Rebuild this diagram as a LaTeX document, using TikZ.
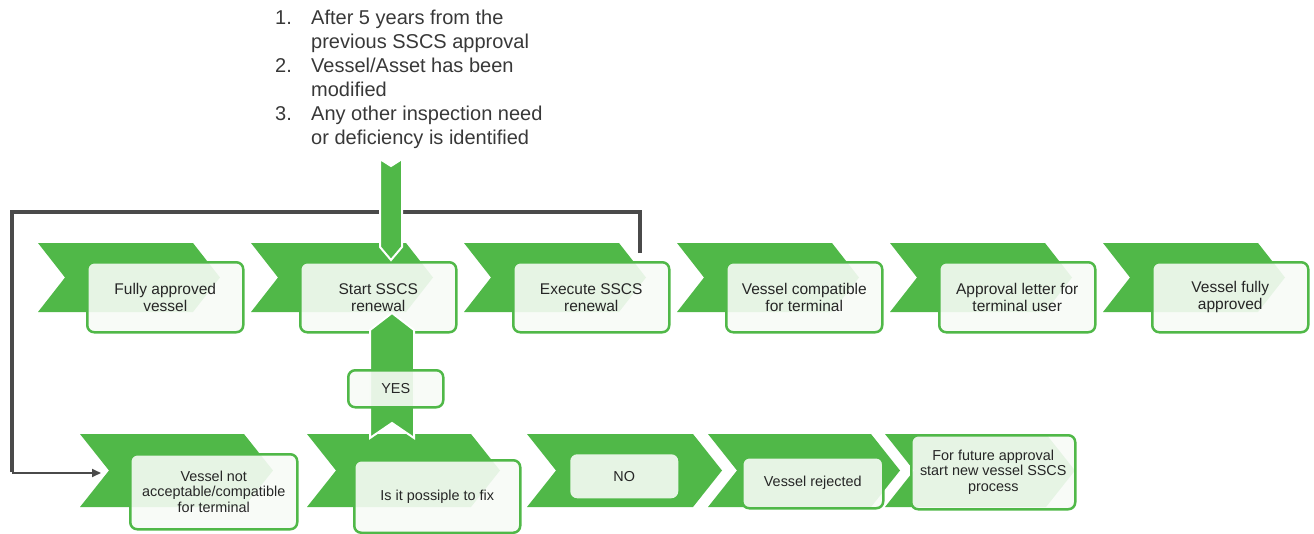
\documentclass[tikz,border=0pt]{standalone}
\usepackage{fontspec}
\setmainfont{Liberation Sans}
\usetikzlibrary{arrows.meta}

\definecolor{stepgreen}{HTML}{50B848}
\definecolor{boxfill}{HTML}{F7FBF6}
\definecolor{loopgray}{HTML}{4A4A4A}
\definecolor{textgray}{HTML}{262626}
\definecolor{listgray}{HTML}{383838}

\begin{document}
\begin{tikzpicture}[x=1pt,y=-1pt]

\tikzset{stage/.style={
    draw=stepgreen, line width=2.5pt, rounded corners=7pt,
    fill=boxfill, fill opacity=0.9, text opacity=1, text=textgray,
    anchor=north west, align=center, inner sep=0pt,
    minimum width=156pt, minimum height=70pt,
    font=\fontsize{15.5}{17}\selectfont
  },
  low/.style={font=\fontsize{14.4}{15.5}\selectfont},
  chevron/.style={fill=stepgreen},
  block arrow/.style={fill=stepgreen, draw=white, line width=2pt},
  loop line/.style={draw=loopgray, line width=3.5pt},
  trigger list/.style={anchor=north west, align=left, inner sep=0pt,
    text=listgray, font=\fontsize{20}{24}\selectfont}
}

\useasboundingbox (0,0) rectangle (1314,533);

\coordinate (loopstart) at (640,253);
\coordinate (loopcorner) at (12,473);
\coordinate (loopend) at (101,473);
\draw[loop line] (loopstart) |- (12,212) -- ([yshift=1pt]loopcorner);
\draw[loopgray, line width=1.8pt, -{Triangle[length=9pt,width=8pt]}] (loopcorner) -- (loopend);

\foreach \x in {38,251,464,677,890,1103}
  \fill[chevron] (\x,243) -- ++(155,0) -- ++(27,34.5) -- ++(-27,34.5)
    -- ++(-155,0) -- ++(27,-34.5) -- cycle;

\foreach \x/\w in {80/193,307/193,527/195,708/192,885/190}
  \fill[chevron] (\x,434) -- ++(\w-29,0) -- ++(29,36.5) -- ++(-29,36.5)
    -- ++(29-\w,0) -- ++(29,-36.5) -- cycle;

\node[stage] (fullyok) at (86,261) {Fully approved\\vessel};
\node[stage] (startren) at (299,261) {Start SSCS\\renewal};
\node[stage] (execren) at (512,261) {Execute SSCS\\renewal};
\node[stage] (compat) at (725,261) {Vessel compatible\\for terminal};
\node[stage] (letter) at (938,261) {Approval letter for\\terminal user};
\node[stage] (approved) at (1151,261) {Vessel fully\\approved};

\node[stage, low, minimum width=167pt, minimum height=75pt] (notok) at (129,453)
  {Vessel not\\acceptable/compatible\\for terminal};
\node[stage, low, minimum width=166pt, minimum height=72.5pt] (fixq) at (353,459)
  {Is it possiple to fix};
\node[stage, low, draw=none, fill opacity=0.9, minimum width=108pt, minimum height=44pt] (nobox) at (569,453) {NO};
\node[stage, low, minimum width=141pt, minimum height=51pt] (rejected) at (741,456)
  {Vessel rejected};
\node[stage, low, minimum width=164pt, minimum height=74pt] (newproc) at (910,434)
  {For future approval\\start new vessel SSCS\\process};

\filldraw[block arrow] (380,159) -- (391,166) -- (402,159) -- (402,247)
  -- (391,260) -- (380,247) -- cycle;
\filldraw[block arrow] (392,313) -- (414,330) -- (414,438) -- (392,423)
  -- (370,438) -- (370,330) -- cycle;

\node[stage, low, minimum width=95pt, minimum height=37pt] (yesbox) at (347,369) {YES};

\node[trigger list] (triggers) at (275,9.5) {%
  \makebox[36pt][l]{1.}After 5 years from the\\
  \hspace*{36pt}previous SSCS approval\\
  \makebox[36pt][l]{2.}Vessel/Asset has been\\
  \hspace*{36pt}modified\\
  \makebox[36pt][l]{3.}Any other inspection need\\
  \hspace*{36pt}or deficiency is identified};

\end{tikzpicture}
\end{document}
